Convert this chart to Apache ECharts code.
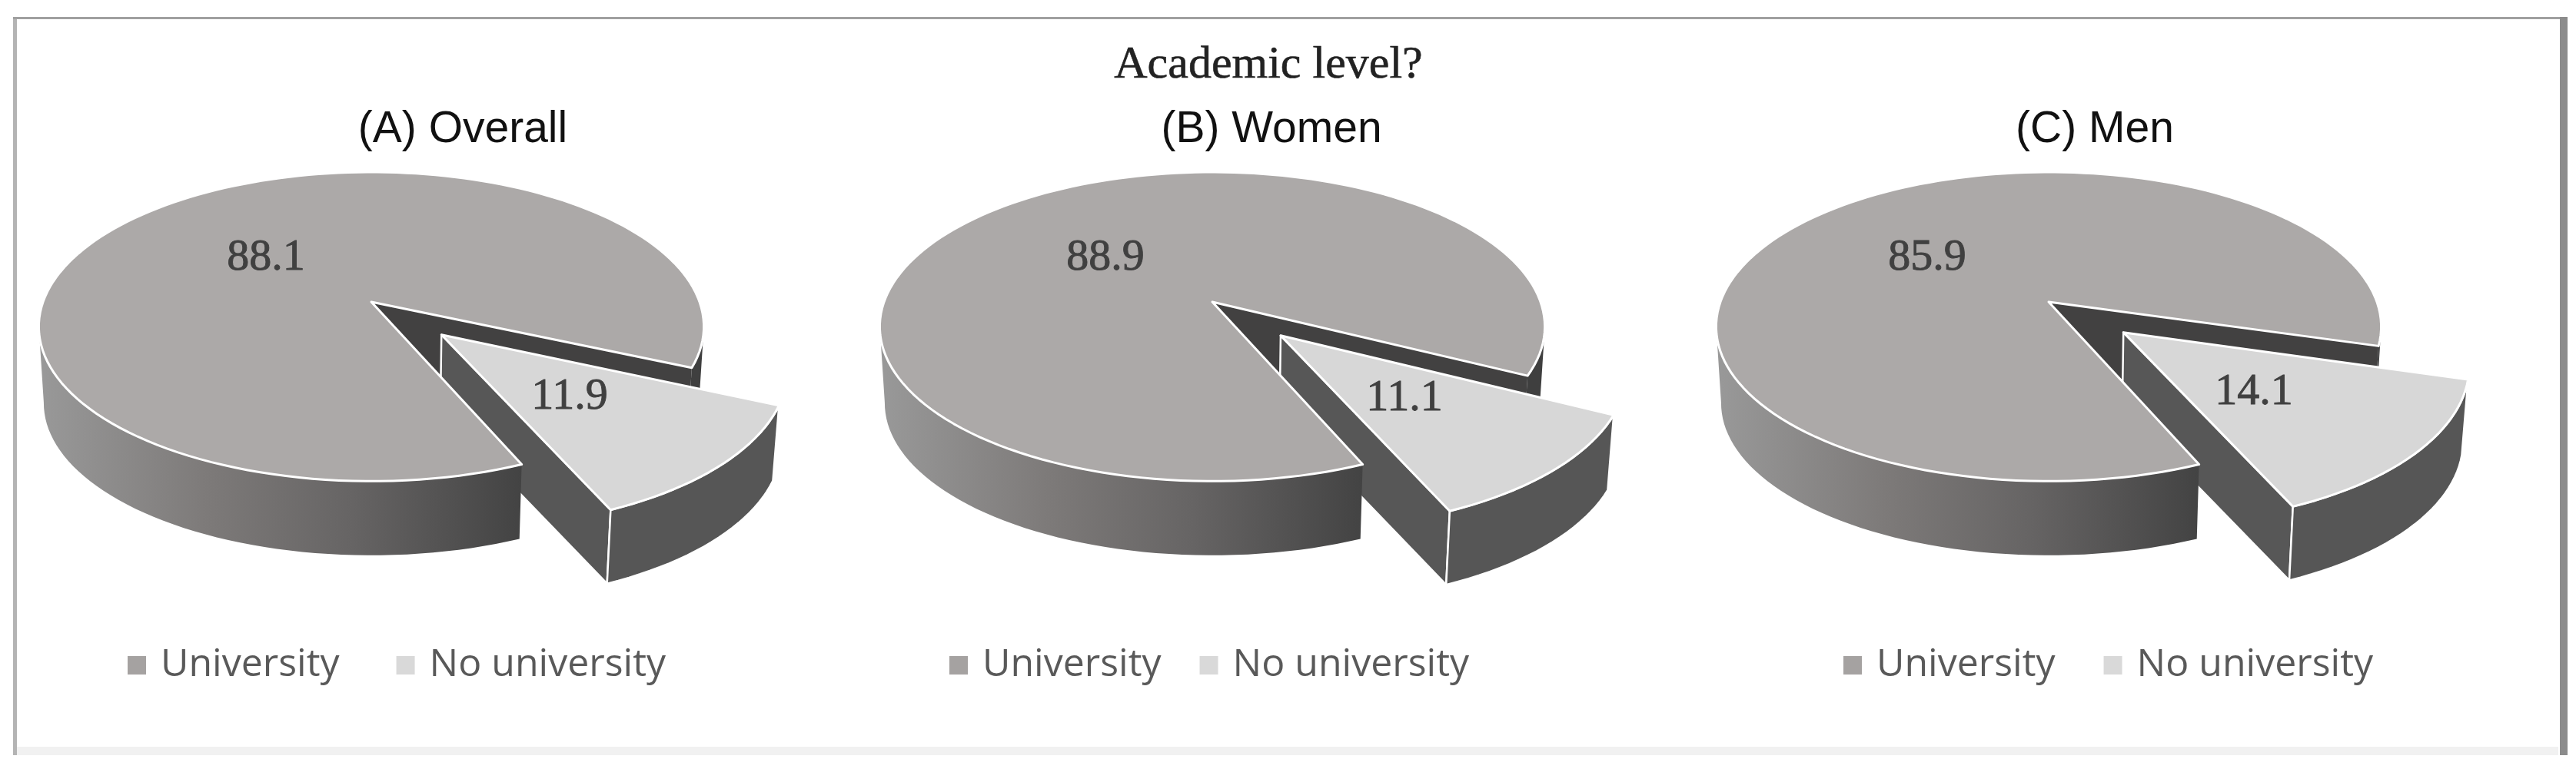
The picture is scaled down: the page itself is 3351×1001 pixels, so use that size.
<!DOCTYPE html>
<html>
<head>
<meta charset="utf-8">
<title>Academic level?</title>
<style>
  html, body { margin: 0; padding: 0; background: #fff; }
  #chart { width: 3351px; height: 1001px; }
</style>
<script src="https://cdn.jsdelivr.net/npm/echarts@6/dist/echarts.min.js"></script>
</head>
<body>
<div id="chart"></div>
<script>
// data
var panels = ['(A) Overall', '(B) Women', '(C) Men']
var university = [88.1, 88.9, 85.9]
var noUniversity = [11.9, 11.1, 14.1]

// layout of each pie, px
var centerX = [483, 1577, 2665]
var centerY = 393
var legendLeft = [161, 1230, 2393]
var legendGap = [74, 50, 63]
var titleX = [597, 1649, 2720]
var uniLabelDx = [-137, -139, -158]
var noLabelDx = [258, 250, 267]
var noLabelY = [517, 519, 511]

// 3d look: the disc is a circle seen in perspective
var radiusX = 427
var radiusY = 196
var persp = 0.16
var depth = 100
var bottomScale = 0.985
var explode = 0.295
var sliceEnd = 67 // degrees clockwise from east, where the small slice stops
var leftTangent = 171 // angle where the wall outline leaves the rim on the left

function project(panel, px, py, low) {
  var s = 1 / (1 - persp * py)
  var k = low ? bottomScale : 1
  return [
    centerX[panel] + k * radiusX * px * s,
    centerY + (low ? depth : 0) + k * radiusY * py * s
  ]
}

// points along the rim between two angles
function rim(panel, from, to, low, ox, oy) {
  var pts = []
  var n = Math.ceil(Math.abs(to - from) / 2) + 1
  for (var i = 0; i <= n; i++) {
    var a = (from + (to - from) * i / n) * Math.PI / 180
    pts.push(project(panel, Math.cos(a) + (ox || 0), Math.sin(a) + (oy || 0), low))
  }
  return pts
}

function poly(points, fill, z2, lineW) {
  return {
    type: 'polygon',
    z2: z2,
    shape: { points: points },
    style: { fill: fill, stroke: lineW ? '#fff' : null, lineWidth: lineW || 0, lineJoin: 'round' }
  }
}

function sliceLabel(text, x, y) {
  return {
    type: 'text',
    z2: 8,
    style: {
      text: text,
      x: x,
      y: y,
      align: 'center',
      verticalAlign: 'middle',
      font: '58px "Liberation Serif"',
      fill: '#404040',
      stroke: '#404040',
      lineWidth: 0.9
    }
  }
}

var wallGradient = {
  type: 'linear', x: 0, y: 0, x2: 1, y2: 0,
  colorStops: [
    { offset: 0, color: '#999999' },
    { offset: 0.35, color: '#7d7a79' },
    { offset: 0.65, color: '#666464' },
    { offset: 1, color: '#434343' }
  ]
}

function renderUniversity(params, api) {
  var p = api.value(0)
  var share = api.value(1)
  var start = sliceEnd
  var stop = sliceEnd + share * 3.6 // back round to the start of the gap
  var hub = project(p, 0, 0, false)
  var hubLow = project(p, 0, 0, true)
  var gapEdge = rim(p, stop, stop, false)[0]
  var gapEdgeLow = rim(p, stop, stop, true)[0]
  var top = [hub].concat(rim(p, start, stop, false))
  return {
    type: 'group',
    children: [
      // wall seen through the gap and the sliver at the right
      poly([hub, gapEdge, gapEdgeLow, hubLow], '#424141', 1),
      poly(rim(p, stop, 372, false).concat(rim(p, stop, 372, true).reverse()), '#3f3f3f', 1),
      // front wall
      poly(rim(p, start, leftTangent, false).concat(rim(p, start, leftTangent, true).reverse()), wallGradient, 5),
      poly(top, '#aca9a8', 6, 3),
      sliceLabel(share.toFixed(1), hub[0] + uniLabelDx[p], 336)
    ]
  }
}

function renderNoUniversity(params, api) {
  var p = api.value(0)
  var share = api.value(1)
  var stop = sliceEnd
  var start = sliceEnd - share * 3.6
  var mid = (start + stop) / 2 * Math.PI / 180
  var ox = explode * Math.cos(mid)
  var oy = explode * Math.sin(mid)
  var hub = project(p, ox, oy, false)
  var hubLow = project(p, ox, oy, true)
  var endTop = rim(p, stop, stop, false, ox, oy)[0]
  var endLow = rim(p, stop, stop, true, ox, oy)[0]
  return {
    type: 'group',
    children: [
      poly([hub, endTop, endLow, hubLow], '#575757', 2, 2.5),
      poly(rim(p, start, stop, false, ox, oy).concat(rim(p, start, stop, true, ox, oy).reverse()), '#565656', 2, 2.5),
      poly([hub].concat(rim(p, start, stop, false, ox, oy)), '#d7d7d7', 3, 3),
      sliceLabel(share.toFixed(1), centerX[p] + noLabelDx[p], noLabelY[p])
    ]
  }
}

function rows(values) {
  return values.map(function (v, i) { return [i, v] })
}

var chart = echarts.init(document.getElementById('chart'), null, { renderer: 'canvas' })

chart.setOption({
  animation: false,
  backgroundColor: '#fff',
  title: [{
    text: 'Academic level?',
    left: 1645,
    top: 50,
    textAlign: 'center',
    textStyle: { fontFamily: 'Liberation Serif', fontWeight: 'normal', fontSize: 60, color: '#222', textBorderColor: '#222', textBorderWidth: 0.6 }
  }].concat(panels.map(function (name, i) {
    return {
      text: name,
      left: titleX[i],
      top: 136,
      textAlign: 'center',
      textStyle: { fontFamily: 'Liberation Sans', fontWeight: 'normal', fontSize: 57, color: '#111' }
    }
  })),
  legend: panels.map(function (name, i) {
    return {
      data: ['University', 'No university'],
      left: legendLeft[i],
      top: 836,
      icon: 'rect',
      itemWidth: 24,
      itemHeight: 24,
      itemGap: legendGap[i],
      textStyle: { fontFamily: 'Open Sans', fontSize: 50, color: '#595959', padding: [0, 0, 0, 14] }
    }
  }),
  graphic: [
    // picture frame
    { type: 'rect', shape: { x: 22, y: 972, width: 3306, height: 11 }, style: { fill: '#f1f1f1' }, z: -1 },
    { type: 'rect', shape: { x: 17, y: 22, width: 5, height: 961 }, style: { fill: '#b4b4b4' }, z: -1 },
    { type: 'rect', shape: { x: 17, y: 22, width: 3323, height: 3 }, style: { fill: '#a0a0a0' }, z: -1 },
    { type: 'rect', shape: { x: 3330, y: 22, width: 10, height: 961 }, style: { fill: '#8c8c8c' }, z: -1 }
  ],
  series: [{
    type: 'custom',
    name: 'University',
    coordinateSystem: 'none',
    itemStyle: { color: '#a5a2a1' },
    renderItem: renderUniversity,
    encode: { value: 1 },
    data: rows(university)
  }, {
    type: 'custom',
    name: 'No university',
    coordinateSystem: 'none',
    itemStyle: { color: '#d9d9d9' },
    renderItem: renderNoUniversity,
    encode: { value: 1 },
    data: rows(noUniversity)
  }]
})
</script>
</body>
</html>
